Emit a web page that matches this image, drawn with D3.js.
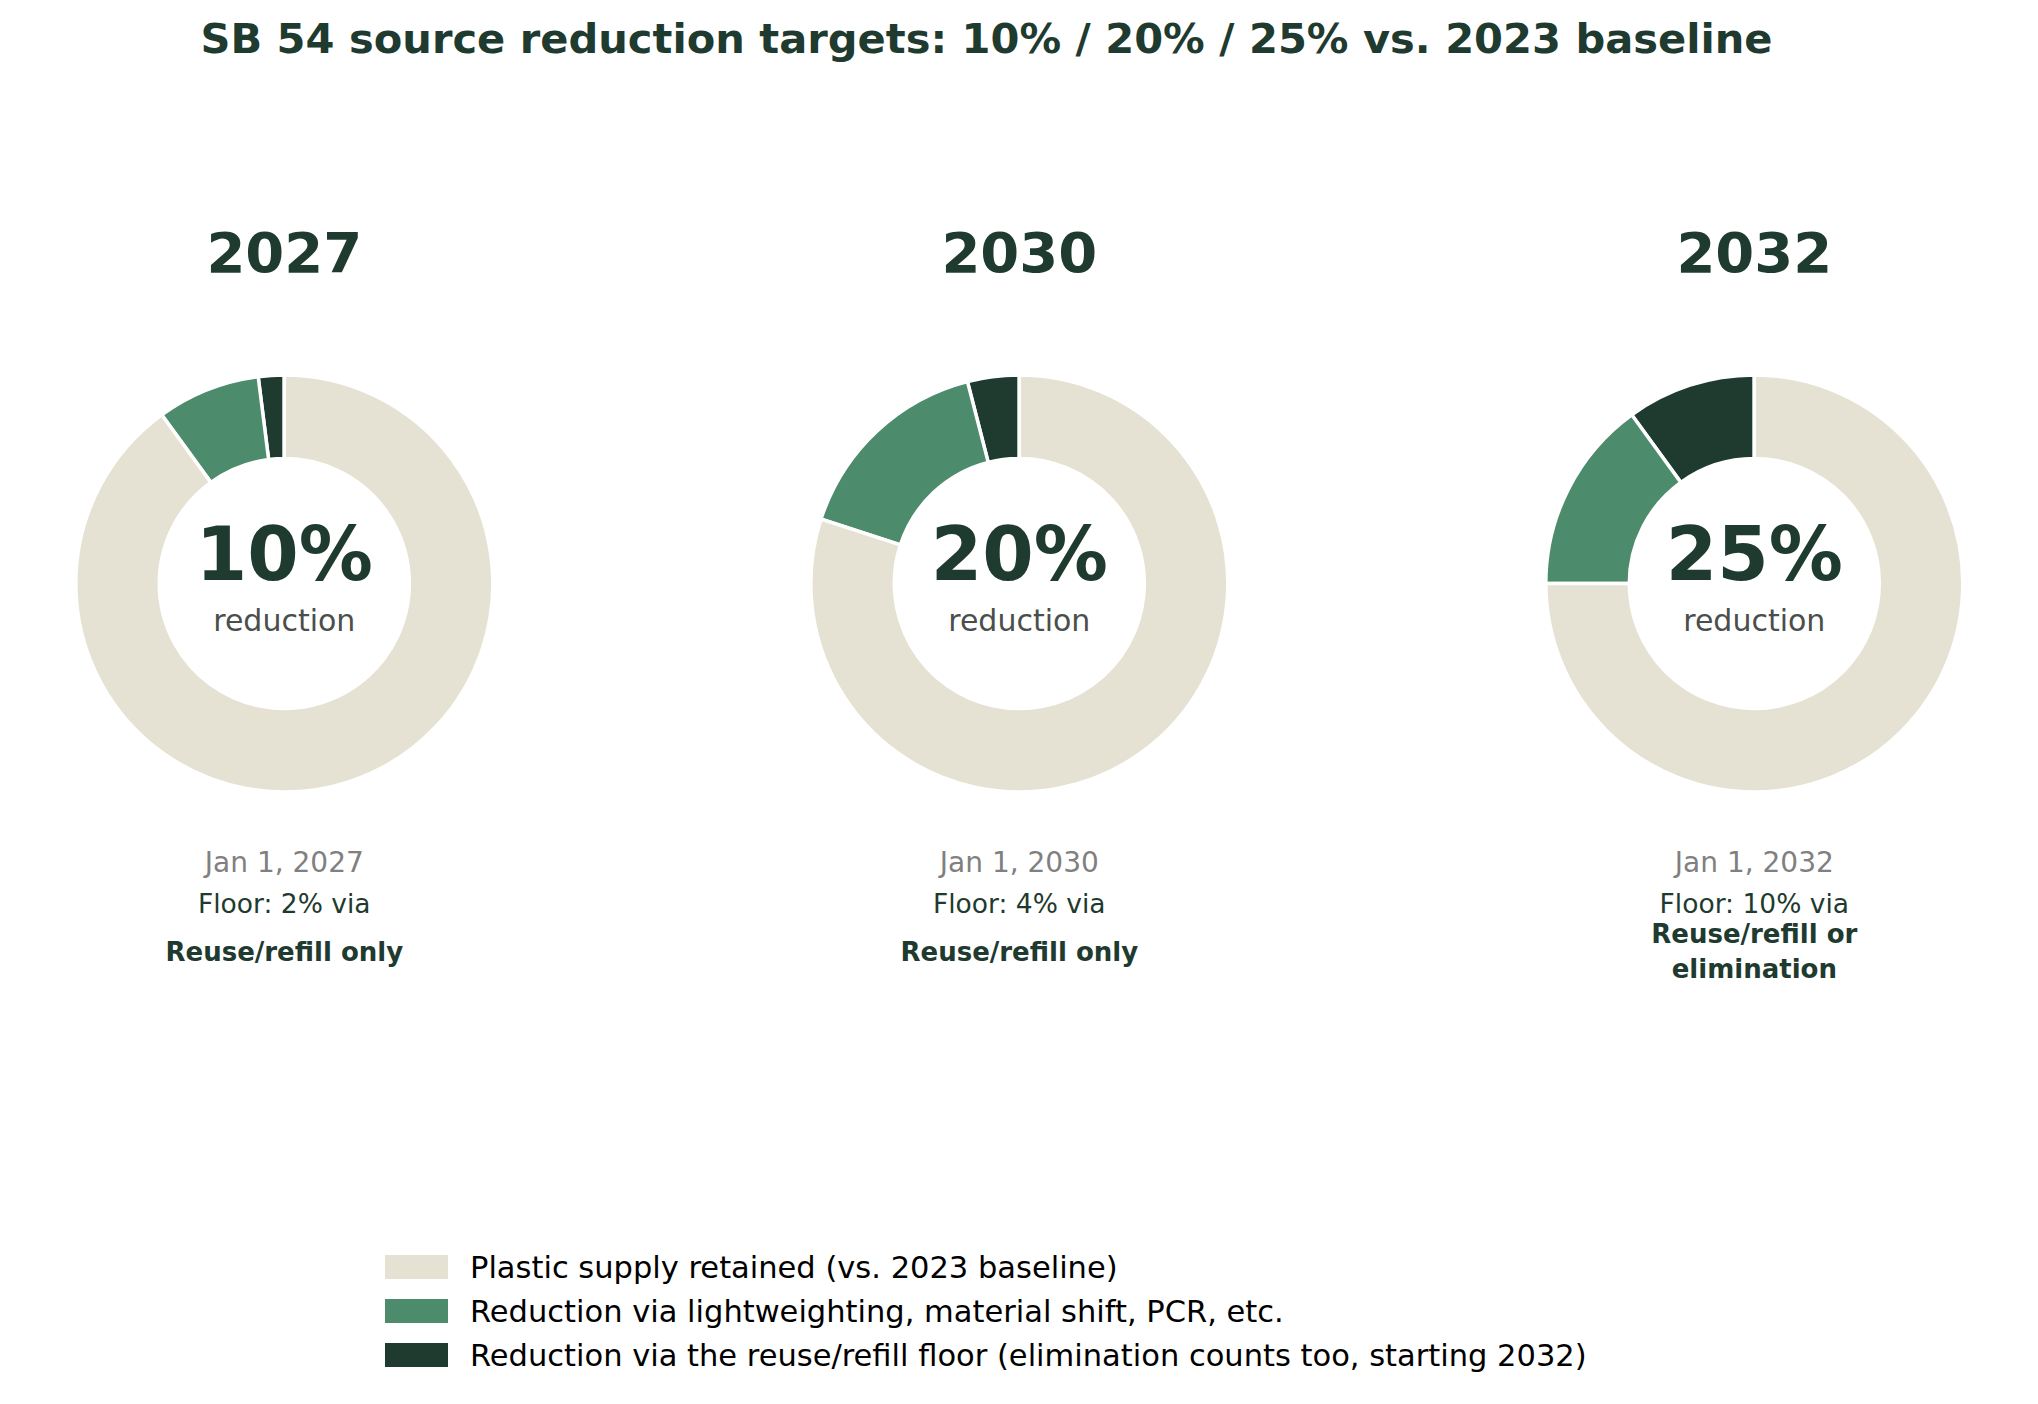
<!DOCTYPE html>
<html>
<head>
<meta charset="UTF-8">
<script src="https://d3js.org/d3.v7.min.js"></script>
<title>SB 54 source reduction targets</title>
<style>
  body { margin: 0; background: #fff; }
  text { font-family: "DejaVu Sans", sans-serif; }
</style>
</head>
<body>
<div id="chart"></div>
<script>
// data
var years = ["2027", "2030", "2032"];
var retained = [90, 80, 75];
var lightweighting = [8, 16, 15];
var reuseFloor = [2, 4, 10];
var totalLabels = ["10%", "20%", "25%"];
var dateLabels = ["Jan 1, 2027", "Jan 1, 2030", "Jan 1, 2032"];
var floorLabels = ["Floor: 2% via", "Floor: 4% via", "Floor: 10% via"];
var pathwayLabels = [["Reuse/refill only"], ["Reuse/refill only"], ["Reuse/refill or", "elimination"]];
var seriesNames = [
  "Plastic supply retained (vs. 2023 baseline)",
  "Reduction via lightweighting, material shift, PCR, etc.",
  "Reduction via the reuse/refill floor (elimination counts too, starting 2032)"
];
var seriesColors = ["#e6e2d3", "#4c8b6b", "#1f3a2f"];

var width = 2038, height = 1404;
var cy = 583.5, rOuter = 208.5, rInner = 125;
var ink = "#1f3a2f";

var svg = d3.select("#chart").append("svg")
  .attr("width", width)
  .attr("height", height);

// title
svg.append("text")
  .attr("x", 986.5).attr("y", 53)
  .attr("text-anchor", "middle")
  .attr("font-size", 41.6).attr("font-weight", "bold")
  .attr("fill", ink)
  .text("SB 54 source reduction targets: 10% / 20% / 25% vs. 2023 baseline");

var x = d3.scalePoint().domain(years).range([284.3, 1754.3]);

// pie goes counterclockwise from 12 o'clock: floor, lightweighting, retained
var pie = d3.pie().sort(null).value(function(d) { return d.v; })
  .startAngle(0).endAngle(-2 * Math.PI);
var arc = d3.arc().innerRadius(rInner).outerRadius(rOuter);

var g = svg.selectAll("g.donut")
  .data(years)
  .enter().append("g")
  .attr("class", "donut")
  .attr("transform", function(d) { return "translate(" + x(d) + ",0)"; });

g.each(function(yr, i) {
  var grp = d3.select(this);
  var slices = [
    { v: reuseFloor[i], c: seriesColors[2] },
    { v: lightweighting[i], c: seriesColors[1] },
    { v: retained[i], c: seriesColors[0] }
  ];
  grp.append("g").attr("transform", "translate(0," + cy + ")")
    .selectAll("path")
    .data(pie(slices))
    .enter().append("path")
    .attr("d", arc)
    .attr("fill", function(d) { return d.data.c; })
    .attr("stroke", "#fff")
    .attr("stroke-width", 3.5)
    .attr("stroke-linejoin", "miter");

  grp.append("text").attr("y", 272).attr("text-anchor", "middle")
    .attr("font-size", 56).attr("font-weight", "bold").attr("fill", ink)
    .text(yr);
  grp.append("text").attr("y", 580).attr("text-anchor", "middle")
    .attr("font-size", 74).attr("font-weight", "bold").attr("fill", ink)
    .text(totalLabels[i]);
  grp.append("text").attr("y", 631).attr("text-anchor", "middle")
    .attr("font-size", 30).attr("fill", "#4a4f4c")
    .text("reduction");
  grp.append("text").attr("y", 872).attr("text-anchor", "middle")
    .attr("font-size", 28).attr("fill", "#808080")
    .text(dateLabels[i]);
  grp.append("text").attr("y", 913).attr("text-anchor", "middle")
    .attr("font-size", 26.5).attr("fill", ink)
    .text(floorLabels[i]);
  // bold pathway, centred on y 951
  var lines = pathwayLabels[i];
  var lh = 35;
  var y0 = 951 - (lines.length - 1) * lh / 2 + 9.5;
  grp.selectAll("text.path")
    .data(lines)
    .enter().append("text")
    .attr("class", "path")
    .attr("y", function(d, k) { return y0 + k * lh; })
    .attr("text-anchor", "middle")
    .attr("font-size", 26).attr("font-weight", "bold").attr("fill", ink)
    .text(function(d) { return d; });
});

// legend
var leg = svg.selectAll("g.leg")
  .data(seriesNames)
  .enter().append("g")
  .attr("class", "leg")
  .attr("transform", function(d, i) { return "translate(385," + (1267 + i * 44) + ")"; });
leg.append("rect")
  .attr("x", 0).attr("y", -12)
  .attr("width", 63).attr("height", 24)
  .attr("fill", function(d, i) { return seriesColors[i]; });
leg.append("text")
  .attr("x", 85).attr("y", 11)
  .attr("font-size", 30.5).attr("fill", "#000")
  .text(function(d) { return d; });
</script>
</body>
</html>
